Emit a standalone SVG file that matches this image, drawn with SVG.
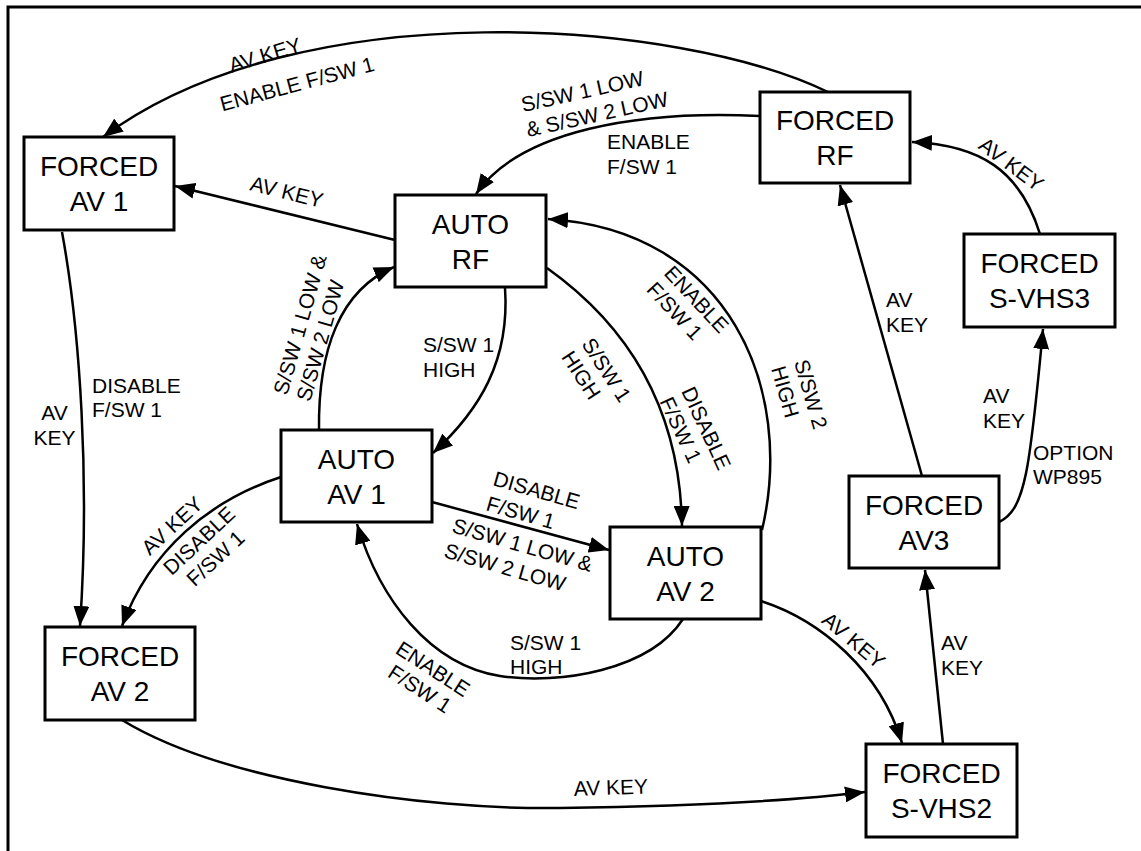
<svg xmlns="http://www.w3.org/2000/svg" width="1141" height="851" viewBox="0 0 1141 851">
<style>
.box rect{fill:#fff;stroke:#000;stroke-width:3}
.box text{font-family:"Liberation Sans",Arial,sans-serif;font-size:28px;text-anchor:middle;fill:#000}
.lbl{font-family:"Liberation Sans",Arial,sans-serif;font-size:21px;fill:#000}
.mid{text-anchor:middle}
#connectors path{fill:none;stroke:#000;stroke-width:2.5}
.arr{marker-end:url(#ah)}
</style>
<defs>
<marker id="ah" viewBox="0 0 20 16" markerWidth="20" markerHeight="16" refX="20" refY="8" orient="auto" markerUnits="userSpaceOnUse">
<path d="M0,0 L20,8 L0,16 z" fill="#000"/>
</marker>
</defs>
<rect width="1141" height="851" fill="#fff"/>
<path d="M8,851 V7 H1141" fill="none" stroke="#000" stroke-width="3"/>

<g id="connectors">
<path class="arr" d="M828,92 C680,20 300,-10 103,137"/>
<path class="arr" d="M760,116 C640,110 520,130 476,194"/>
<path class="arr" d="M395,240 L175,186"/>
<path class="arr" d="M62,232 C80,330 90,480 80,626"/>
<path class="arr" d="M281,477 C210,500 150,550 122,626"/>
<path class="arr" d="M505,288 C510,360 480,410 433,453"/>
<path class="arr" d="M319,430 C318,350 340,290 394,267"/>
<path class="arr" d="M547,268 C620,320 680,400 682,526"/>
<path class="arr" d="M762,530 C795,390 730,230 548,219"/>
<path class="arr" d="M432,502 L609,550"/>
<path class="arr" d="M683,619 C650,670 560,685 500,676 C430,665 380,600 357,524"/>
<path class="arr" d="M761,601 C820,620 880,670 902,743"/>
<path class="arr" d="M122,720 C220,780 420,810 560,808 C700,806 800,800 865,792"/>
<path class="arr" d="M943,744 L925,570"/>
<path class="arr" d="M922,476 L840,185"/>
<path class="arr" d="M999,522 C1025,510 1030,470 1043,329"/>
<path class="arr" d="M1040,234 C1020,170 980,145 912,142"/>
</g>

<g id="labels">
<text class="lbl mid" transform="translate(267,62) rotate(-17)">AV KEY</text>
<text class="lbl mid" transform="translate(299,91) rotate(-15)">ENABLE F/SW 1</text>
<text class="lbl" transform="translate(523,112) rotate(-12.5)">S/SW 1 LOW</text>
<text class="lbl" transform="translate(528,137) rotate(-12.5)">&amp; S/SW 2 LOW</text>
<text class="lbl" x="607" y="149">ENABLE</text>
<text class="lbl" x="607" y="174">F/SW 1</text>
<text class="lbl mid" transform="translate(285,199) rotate(14)">AV KEY</text>
<text class="lbl" x="92" y="393">DISABLE</text>
<text class="lbl" x="92" y="417">F/SW 1</text>
<text class="lbl mid" x="54.5" y="420">AV</text>
<text class="lbl mid" x="54.5" y="445">KEY</text>
<text class="lbl" transform="translate(287,396) rotate(-74)"><tspan x="0" y="0">S/SW 1 LOW &amp;</tspan><tspan x="0" y="24">S/SW 2 LOW</tspan></text>
<text class="lbl" x="423" y="352">S/SW 1</text>
<text class="lbl" x="423" y="377">HIGH</text>
<text class="lbl" transform="translate(581,344) rotate(57)"><tspan x="0" y="0">S/SW 1</tspan><tspan x="0" y="24">HIGH</tspan></text>
<text class="lbl" transform="translate(681,391) rotate(65)"><tspan x="0" y="0">DISABLE</tspan><tspan x="0" y="24">F/SW 1</tspan></text>
<text class="lbl" transform="translate(663,274) rotate(47)"><tspan x="0" y="0">ENABLE</tspan><tspan x="0" y="24">F/SW 1</tspan></text>
<text class="lbl" transform="translate(794,362) rotate(74)"><tspan x="0" y="0">S/SW 2</tspan><tspan x="0" y="24">HIGH</tspan></text>
<text class="lbl" x="886" y="307">AV</text>
<text class="lbl" x="886" y="332">KEY</text>
<text class="lbl mid" transform="translate(1007,170) rotate(37)">AV KEY</text>
<text class="lbl" x="983" y="403">AV</text>
<text class="lbl" x="983" y="428">KEY</text>
<text class="lbl" x="1033" y="460">OPTION</text>
<text class="lbl" x="1033" y="484">WP895</text>
<text class="lbl mid" transform="translate(177,531) rotate(-43)">AV KEY</text>
<text class="lbl mid" transform="translate(204,546) rotate(-43)"><tspan x="0" y="0">DISABLE</tspan><tspan x="0" y="24">F/SW 1</tspan></text>
<text class="lbl" transform="translate(492,485) rotate(16)">DISABLE</text>
<text class="lbl" transform="translate(485,510) rotate(16)">F/SW 1</text>
<text class="lbl" transform="translate(451,532) rotate(16)">S/SW 1 LOW &amp;</text>
<text class="lbl" transform="translate(443,557) rotate(16)">S/SW 2 LOW</text>
<text class="lbl mid" transform="translate(429,675) rotate(33)"><tspan x="0" y="0">ENABLE</tspan><tspan x="0" y="24">F/SW 1</tspan></text>
<text class="lbl" x="510" y="650">S/SW 1</text>
<text class="lbl" x="510" y="674">HIGH</text>
<text class="lbl mid" transform="translate(849,646) rotate(40)">AV KEY</text>
<text class="lbl" x="941" y="650">AV</text>
<text class="lbl" x="941" y="675">KEY</text>
<text class="lbl" transform="translate(574,796) rotate(-2)">AV KEY</text>
</g>

<g id="forced-av1" class="box"><rect x="24" y="137" width="150" height="93"/><text x="99" y="176">FORCED</text><text x="99" y="211">AV 1</text></g>
<g id="auto-rf" class="box"><rect x="395" y="195" width="151" height="92"/><text x="470.5" y="233.5">AUTO</text><text x="470.5" y="268.5">RF</text></g>
<g id="forced-rf" class="box"><rect x="760" y="92" width="150" height="91"/><text x="835" y="130">FORCED</text><text x="835" y="165">RF</text></g>
<g id="forced-svhs3" class="box"><rect x="964" y="234" width="151" height="93"/><text x="1039.5" y="273">FORCED</text><text x="1039.5" y="308">S-VHS3</text></g>
<g id="auto-av1" class="box"><rect x="281" y="430" width="151" height="92"/><text x="356.5" y="468.5">AUTO</text><text x="356.5" y="503.5">AV 1</text></g>
<g id="auto-av2" class="box"><rect x="610" y="527" width="151" height="92"/><text x="685.5" y="565.5">AUTO</text><text x="685.5" y="600.5">AV 2</text></g>
<g id="forced-av3" class="box"><rect x="849" y="476" width="150" height="92"/><text x="924" y="514.5">FORCED</text><text x="924" y="549.5">AV3</text></g>
<g id="forced-av2" class="box"><rect x="45" y="627" width="150" height="93"/><text x="120" y="666">FORCED</text><text x="120" y="701">AV 2</text></g>
<g id="forced-svhs2" class="box"><rect x="866" y="744" width="151" height="93"/><text x="941.5" y="783">FORCED</text><text x="941.5" y="818">S-VHS2</text></g>
</svg>
